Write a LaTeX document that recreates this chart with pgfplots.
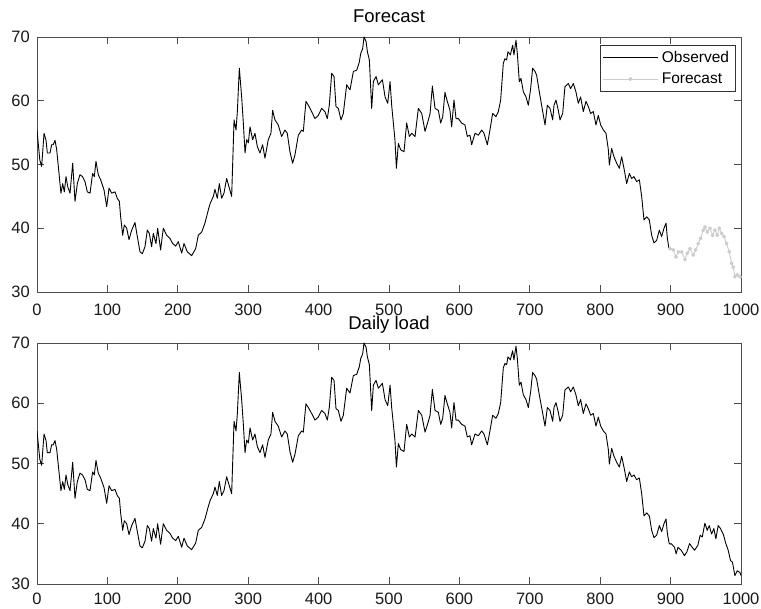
\documentclass[border=0pt]{standalone}
\usepackage{fontspec}
\setmainfont{Liberation Sans}
\usepackage{pgfplots}
\usepackage{pgfplotstable}
\pgfplotsset{compat=1.18}

\definecolor{axgray}{gray}{0.30}
\definecolor{fcgray}{gray}{0.80}

% daily load, full record
\pgfplotstableread{
x y
0 55.4
4 50.7
6.6 49.7
10 54.9
12.8 53.8
14.7 51.8
18.5 51.8
20.8 53.1
23 53.1
25.6 53.8
28 52.3
31.7 48.1
34 45.5
36.5 47.0
38.8 45.7
41.2 48.1
43.7 46.5
46.9 45.5
50.7 50.2
54 44.2
57.3 47.0
61 48.4
64.6 48.1
68.2 47.3
71.5 45.7
75.3 45.5
79 48.6
81.4 48.1
83.8 50.5
87 48.4
90.4 47.6
95.2 46.0
99 43.4
102.3 46.3
106 45.5
110.8 45.7
114 44.7
117 44.2
118.8 41.8
121.7 38.9
124 40.5
127.4 40.0
130.7 38.2
134.5 39.7
139.2 40.9
142.5 38.7
146.3 36.3
149.6 36.0
153.4 37.1
156.7 39.7
159.5 39.2
162.8 37.1
165.2 39.2
169 37.6
171.4 40.0
175.6 36.6
179.4 40.0
184.2 38.9
188.9 38.4
192.7 37.6
197 37.2
200.7 37.9
205.5 36.1
208.8 37.6
213.5 36.3
219.7 35.7
225.4 36.8
229.1 38.9
233.9 39.4
238.6 40.8
243.4 42.9
246 43.9
248.1 44.4
250.5 45.0
252.8 46.1
256.1 44.7
259 47.0
262.3 44.7
265.6 45.5
269.4 47.8
273.2 46.3
276.5 45.0
279.9 57.0
282.7 55.4
284.6 58.3
287.4 65.1
290.7 60.6
293.1 56.5
295.5 51.8
297.8 53.9
300.2 53.4
302.6 55.9
306.3 53.9
309.6 54.9
313 52.8
316.7 51.8
320.5 53.1
323.8 51.0
328.5 53.9
332.3 54.9
334.7 58.5
338 57.0
342.7 56.2
347.5 54.4
352.2 55.4
355.5 54.9
359.3 52.0
363.1 50.2
366.4 51.5
371.2 54.6
375.9 55.4
378.3 55.2
382 59.9
385.4 59.3
390.1 58.3
394.8 57.2
399.6 57.7
404.3 58.8
409 58.3
412.4 57.2
415.2 59.3
418.6 64.3
421.9 63.8
424.7 59.1
428 58.8
431.8 57.0
435.1 58.0
439.9 62.5
444.6 61.7
449.4 64.6
454.2 64.8
457.9 66.1
459.8 67.4
462.6 68.2
464.5 70.0
467.4 69.3
469.3 67.7
472.1 66.4
475.4 58.8
477.8 63.0
481.6 63.8
484.9 62.5
490.6 63.3
494.4 60.6
498.2 59.6
501.5 63.0
503.8 59.3
508.5 53.8
510.5 49.4
513.3 53.3
516.6 52.3
521.3 52.0
525.1 56.5
528.9 54.4
532.2 54.9
537 54.4
541.7 58.8
546.5 58.0
551.2 55.2
556 57.0
558.3 58.0
561.6 62.3
565.4 58.8
570.1 58.5
573.4 56.5
576.3 57.5
579.5 61.3
582.8 59.9
586.6 58.5
589 55.9
592.3 60.1
595.2 57.2
598.5 57.2
603.2 56.5
607.9 56.2
611.2 54.4
615 54.6
617.4 53.1
622.2 54.9
626.9 54.6
631.6 55.4
634.9 54.9
639.7 53.1
643.4 55.4
647.2 58.0
651.9 57.5
655.3 58.3
658.6 60.1
662.4 65.9
664.7 66.6
667.1 66.4
669 67.7
672.4 67.2
675.6 68.7
677.5 67.2
680.4 69.5
682.3 67.4
685.1 63.0
687.5 63.5
690.8 61.4
694.6 60.6
697.9 59.3
701.2 61.9
704 65.1
707.4 64.6
709.7 64.0
713.5 61.4
716.8 59.3
721.6 56.2
724.9 59.3
728.7 58.8
732.5 57.0
734.4 59.3
737.2 60.1
740.5 58.5
742.9 57.0
746.7 58.0
749.9 62.2
754.7 62.7
758 61.9
761.8 62.7
765.5 61.4
768.9 59.6
772.2 60.6
776 58.3
779.8 59.9
783.1 59.1
786.4 58.0
790.2 58.3
794.0 56.2
797.3 57.7
800.7 56.2
804.5 55.4
808.2 54.9
811.6 52.3
813 49.9
816.3 52.5
819.6 51.2
823.4 50.2
827.2 49.4
830.5 51.2
834.3 49.1
837.6 47.0
841.4 48.6
844.7 47.8
848 48.1
851.8 47.3
855.6 47.6
858.9 45.0
862.2 41.3
866 41.8
869.8 41.3
873.1 38.9
876.4 37.7
880.2 38.1
884 39.7
887.3 38.7
890.6 40.0
893.5 40.8
895.4 38.4
897.8 36.8
899.2 36.6
900.8 36.7
905.5 36.1
907.9 35.0
910.5 36.1
915 35.6
919.7 34.7
923 35.3
926.9 36.7
930.7 36.1
934 35.6
938.7 36.4
942 38.1
945 37.8
948.7 40.1
952 38.9
954.9 39.7
958.2 38.3
961.5 39.2
964.3 37.5
967.6 39.7
970.9 39.2
974.7 38.3
978.5 36.7
981.8 35.6
985.1 33.9
987.9 33.6
991.3 31.4
994.7 32.2
998.5 31.9
1000 31.4
}\daily

% forecast over the last hundred days
\pgfplotstableread{
x y
899.2 36.8
903.9 36.6
907.7 35.5
911 36.3
915.7 36.3
920.4 35.1
923.7 36.1
927.5 36.8
932.2 35.8
935.5 36.6
939.3 37.6
942.6 38.4
946.4 39.7
948.8 40.2
952.2 39.4
955.9 40.0
959.7 38.9
963 39.7
966.3 38.9
969.1 40.0
972.5 39.2
975.8 38.7
979.5 37.6
983.3 36.3
986.6 34.5
989 33.9
991.3 32.4
994.7 32.7
998.5 32.4
}\forecast

\pgfplotsset{
  panel/.style={
    scale only axis,
    width=704pt,
    xmin=0, xmax=1000, ymin=30, ymax=70,
    xtick={0,100,...,1000},
    ytick={30,40,...,70},
    axis line style={axgray, line width=0.8pt},
    every tick/.style={axgray, line width=0.8pt},
    major tick length=7pt,
    tick align=inside,
    /pgf/number format/assume math mode=true,
    /pgf/number format/1000 sep={},
    tick label style={font=\fontsize{16.5}{18}\selectfont, text=black!90},
    xticklabel style={anchor=base, inner sep=0pt, yshift=-24pt},
    yticklabel style={anchor=east, inner sep=0pt, xshift=-7pt},
    title style={at={(0.5,1)}, anchor=base, yshift=7pt,
                 font=\fontsize{18.5}{20}\selectfont, inner sep=0pt},
  },
  obs/.style={black, line width=0.9pt, line join=round, mark=none},
}

\begin{document}
\begin{tikzpicture}
\useasboundingbox (0,0) rectangle (761pt,609pt);

\begin{axis}[panel,
  at={(37pt,317pt)}, anchor=south west,
  height=255pt,
  title={Forecast},
  title style={yshift=1pt},
  legend style={at={(0.992,0.97)}, anchor=north east,
    draw=black!80, line width=0.6pt,
    font=\fontsize{15.5}{17}\selectfont,
    inner xsep=2.5pt, inner ysep=1.5pt, row sep=0pt,
    nodes={inner xsep=3.5pt, inner ysep=4.6pt}},
  legend cell align=left,
  legend image code/.code={
    \draw[mark repeat=2, mark phase=2, #1]
      plot coordinates {(0pt,0pt) (27.5pt,0pt) (55pt,0pt)};
  },
]
\addplot[obs, restrict x to domain=0:899.5] table {\daily};
\addlegendentry{Observed}
\addplot[fcgray, line width=0.9pt, line join=round,
  mark=*, mark size=1.5pt, mark options={fcgray, fill=fcgray}]
  table {\forecast};
\addlegendentry{Forecast}
\end{axis}

\begin{axis}[panel,
  at={(37pt,25pt)}, anchor=south west,
  height=241pt,
  title={Daily load},
  xticklabel style={yshift=3.5pt},
]
\addplot[obs] table {\daily};
\end{axis}
\end{tikzpicture}
\end{document}
